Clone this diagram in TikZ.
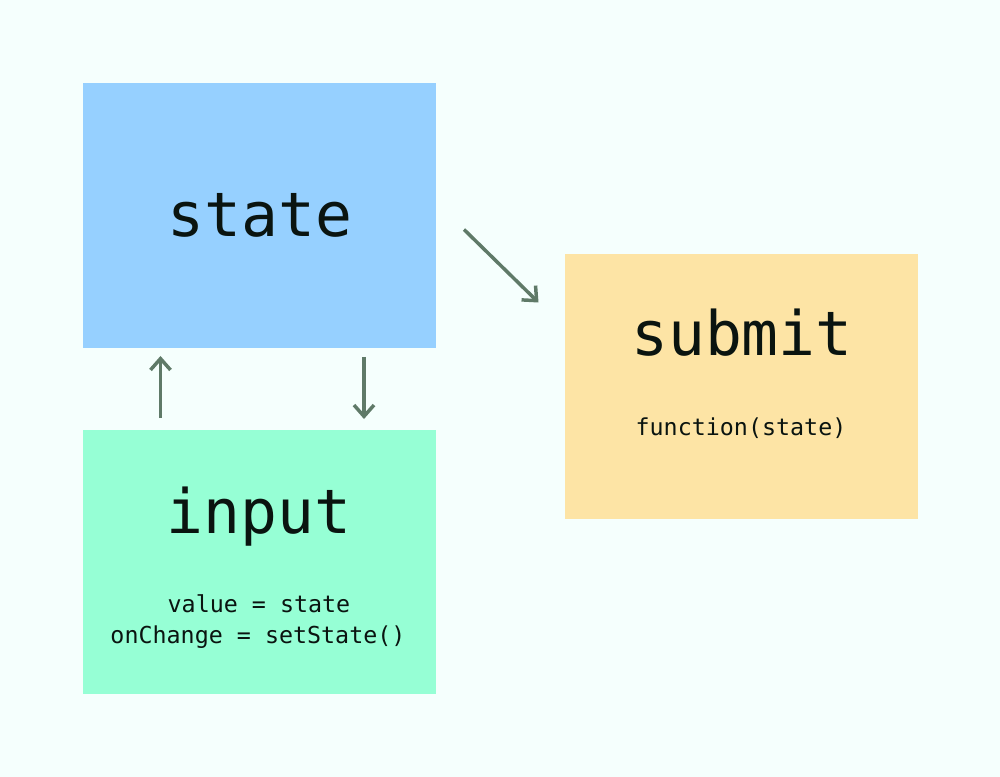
\documentclass[tikz,border=0pt]{standalone}
\usepackage{fontspec}
\setmonofont{DejaVu Sans Mono}
\usetikzlibrary{arrows.meta}
\definecolor{bgc}{HTML}{F5FFFD}
\definecolor{bluec}{HTML}{96D0FF}
\definecolor{greenc}{HTML}{96FFD5}
\definecolor{yellowc}{HTML}{FDE4A5}
\definecolor{arrowc}{HTML}{5F7A68}
\definecolor{textc}{HTML}{0A1410}
\tikzset{
  boxst/.style={draw=none,inner sep=0pt,outer sep=0pt},
  bigtxt/.style={anchor=base,inner sep=0pt,text=textc,font=\ttfamily\fontsize{46}{50}\selectfont},
  smalltxt/.style={anchor=base,inner sep=0pt,text=textc,font=\ttfamily\fontsize{17.5}{22}\selectfont},
  conn/.style={draw=arrowc,line width=2.6pt,-{Straight Barb[length=8.5pt,width=15pt,line width=2.6pt]}}
}
\begin{document}
\begin{tikzpicture}[x=0.75pt,y=-0.75pt]
\fill[bgc] (0,0) rectangle (1000,777);
\useasboundingbox (0,0) rectangle (1000,777);
% boxes
\fill[bluec] (83,83) rectangle (436,348);
\fill[greenc] (83,430) rectangle (436,694);
\fill[yellowc] (565,254) rectangle (918,519);
\node[boxst] (statebox) at (259.5,215.5) {};
\node[boxst] (inputbox) at (259.5,562) {};
\node[boxst] (submitbox) at (741.5,386.5) {};
% texts
\node[bigtxt] (statet) at (260,237) {state};
\node[bigtxt] (inputt) at (259,533) {input};
\node[bigtxt] (submitt) at (742,355) {submit};
\node[smalltxt] (funct) at (741,435) {function(state)};
\node[smalltxt] (valt) at (259,612) {value = state};
\node[smalltxt] (chgt) at (258,643) {onChange = setState()};
% arrow endpoints
\coordinate (upA) at (160.5,418);
\coordinate (upB) at (160.5,356);
\coordinate (dnA) at (364,357);
\coordinate (dnB) at (364,419);
\coordinate (dgA) at (464,229.5);
\coordinate (dgB) at (538.5,302.5);
\draw[conn] (upA) -- (upB);
\draw[conn] (dnA) -- (dnB);
\draw[conn] (dgA) -- (dgB);
\end{tikzpicture}
\end{document}
